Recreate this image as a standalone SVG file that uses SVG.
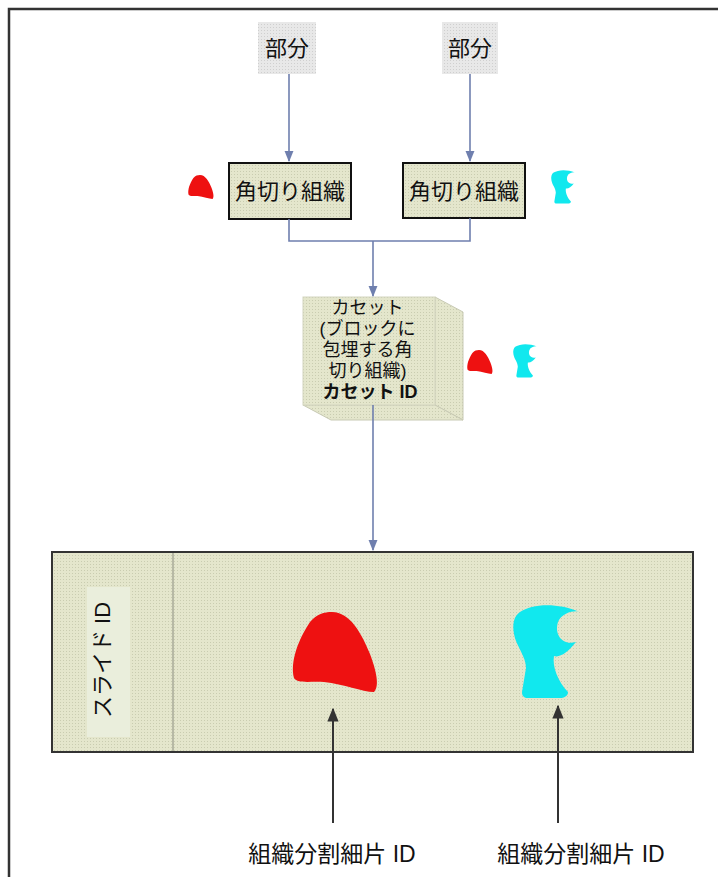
<svg xmlns="http://www.w3.org/2000/svg" width="718" height="877" viewBox="0 0 718 877">
  <defs>
    <pattern id="dotsBeige" width="3" height="3" patternUnits="userSpaceOnUse">
      <rect width="3" height="3" fill="#e4e6cc"/>
      <rect width="1" height="1" fill="#c9ccb0"/>
    </pattern>
    <pattern id="dotsGrey" width="3" height="3" patternUnits="userSpaceOnUse">
      <rect width="3" height="3" fill="#e8e8e8"/>
      <rect width="1" height="1" fill="#cfcfcf"/>
    </pattern>
    <marker id="arrBlue" viewBox="0 0 10 10" refX="9" refY="5" markerWidth="7" markerHeight="7" orient="auto">
      <path d="M0,1 L10,5 L0,9 z" fill="#6f7fae"/>
    </marker>
    <marker id="arrBlack" viewBox="0 0 10 10" refX="9" refY="5" markerWidth="7" markerHeight="7" orient="auto">
      <path d="M0,1 L10,5 L0,9 z" fill="#333"/>
    </marker>
    <path id="redBlob" d="M0,-40 C18,-40 30,-18 38,2 C44,18 48,34 42,40 C30,40 12,32 -8,30 C-22,29 -34,32 -38,26 C-42,10 -34,-12 -22,-30 C-15,-38 -8,-40 0,-40 Z"/>
    <path id="cyanBlob" d="M-26,-40 C-14,-48 10,-50 34,-40 C30,-42 16,-40 12,-30 C8,-18 16,-6 30,-10 C22,0 14,6 8,4 C6,14 12,30 22,40 C22,44 18,46 14,46 L-18,46 C-22,46 -24,44 -24,40 L-20,16 C-20,4 -30,-6 -32,-18 C-34,-28 -32,-36 -26,-40 Z"/>
  </defs>
  <style>
    .jp { font-family: "Liberation Sans", "Noto Sans CJK JP", sans-serif; fill: #111; }
    .conn { stroke: #6f7fae; stroke-width: 1.6; fill: none; }
    .ptr { stroke: #333; stroke-width: 2; fill: none; }
    .cut { fill: url(#dotsBeige); stroke: #111; stroke-width: 2; }
  </style>

  <rect width="718" height="877" fill="#ffffff"/>
  <!-- frame: top and left rules -->
  <path d="M9,877 L9,9 L718,9" fill="none" stroke="#333" stroke-width="2.5"/>

  <!-- part sources -->
  <g id="part-left">
    <rect x="258" y="22" width="58" height="52" fill="url(#dotsGrey)"/>
    <text class="jp" x="287" y="56" font-size="22" text-anchor="middle">部分</text>
  </g>
  <g id="part-right">
    <rect x="442" y="22" width="56" height="52" fill="url(#dotsGrey)"/>
    <text class="jp" x="470" y="56" font-size="22" text-anchor="middle">部分</text>
  </g>

  <!-- trimmed tissue -->
  <g id="cut-left">
    <rect class="cut" x="229" y="163" width="122" height="56"/>
    <text class="jp" x="290" y="199" font-size="22" text-anchor="middle">角切り組織</text>
    <use href="#redBlob" transform="translate(200,187) scale(0.3)" fill="#ee1111"/>
  </g>
  <g id="cut-right">
    <rect class="cut" x="403" y="163" width="122" height="55"/>
    <text class="jp" x="464" y="199" font-size="22" text-anchor="middle">角切り組織</text>
    <use href="#cyanBlob" transform="translate(563,187) scale(0.36)" fill="#11e8ee"/>
  </g>

  <!-- cassette block -->
  <g id="cassette">
    <polygon points="435,297 463,312 463,420 435,405" fill="url(#dotsBeige)" stroke="#c8cab4" stroke-width="1"/>
    <polygon points="303,405 435,405 463,420 331,420" fill="url(#dotsBeige)" stroke="#c8cab4" stroke-width="1"/>
    <rect x="303" y="297" width="132" height="108" fill="url(#dotsBeige)" stroke="#d4d6c0" stroke-width="1"/>
    <text class="jp" font-size="18" text-anchor="middle">
      <tspan x="370" y="314">カセット</tspan>
      <tspan x="370" y="335">(ブロックに</tspan>
      <tspan x="370" y="356">包埋する角</tspan>
      <tspan x="370" y="377">切り組織)</tspan>
      <tspan x="370" y="398" font-weight="bold">カセット ID</tspan>
    </text>
    <use href="#redBlob" transform="translate(479,362) scale(0.3)" fill="#ee1111"/>
    <use href="#cyanBlob" transform="translate(525,361) scale(0.36)" fill="#11e8ee"/>
  </g>

  <!-- slide -->
  <g id="slide">
    <rect x="52" y="552" width="641" height="200" fill="url(#dotsBeige)" stroke="#333" stroke-width="2"/>
    <line x1="173" y1="553" x2="173" y2="751" stroke="#a8aa98" stroke-width="1.5"/>
    <rect x="87" y="587" width="43" height="150" fill="#eaeedc"/>
    <text class="jp" transform="translate(110,660) rotate(-90)" font-size="22" text-anchor="middle">スライド ID</text>
    <use href="#redBlob" transform="translate(332,652)" fill="#ee1111"/>
    <use href="#cyanBlob" transform="translate(546,652)" fill="#11e8ee"/>
  </g>

  <!-- section labels -->
  <g id="label-left">
    <text class="jp" x="332" y="862" font-size="23" text-anchor="middle">組織分割細片 ID</text>
  </g>
  <g id="label-right">
    <text class="jp" x="581" y="862" font-size="23" text-anchor="middle">組織分割細片 ID</text>
  </g>

  <!-- connectors, drawn over the shapes -->
  <g id="connectors">
    <path class="conn" d="M289,74 L289,161" marker-end="url(#arrBlue)"/>
    <path class="conn" d="M470,74 L470,161" marker-end="url(#arrBlue)"/>
    <path class="conn" d="M289,219 L289,241 L470,241 L470,218"/>
    <path class="conn" d="M373,241 L373,296" marker-end="url(#arrBlue)"/>
    <path class="conn" d="M373,405 L373,550" marker-end="url(#arrBlue)"/>
    <path class="ptr" d="M333,823 L333,709" marker-end="url(#arrBlack)"/>
    <path class="ptr" d="M558,823 L558,706" marker-end="url(#arrBlack)"/>
  </g>
</svg>
